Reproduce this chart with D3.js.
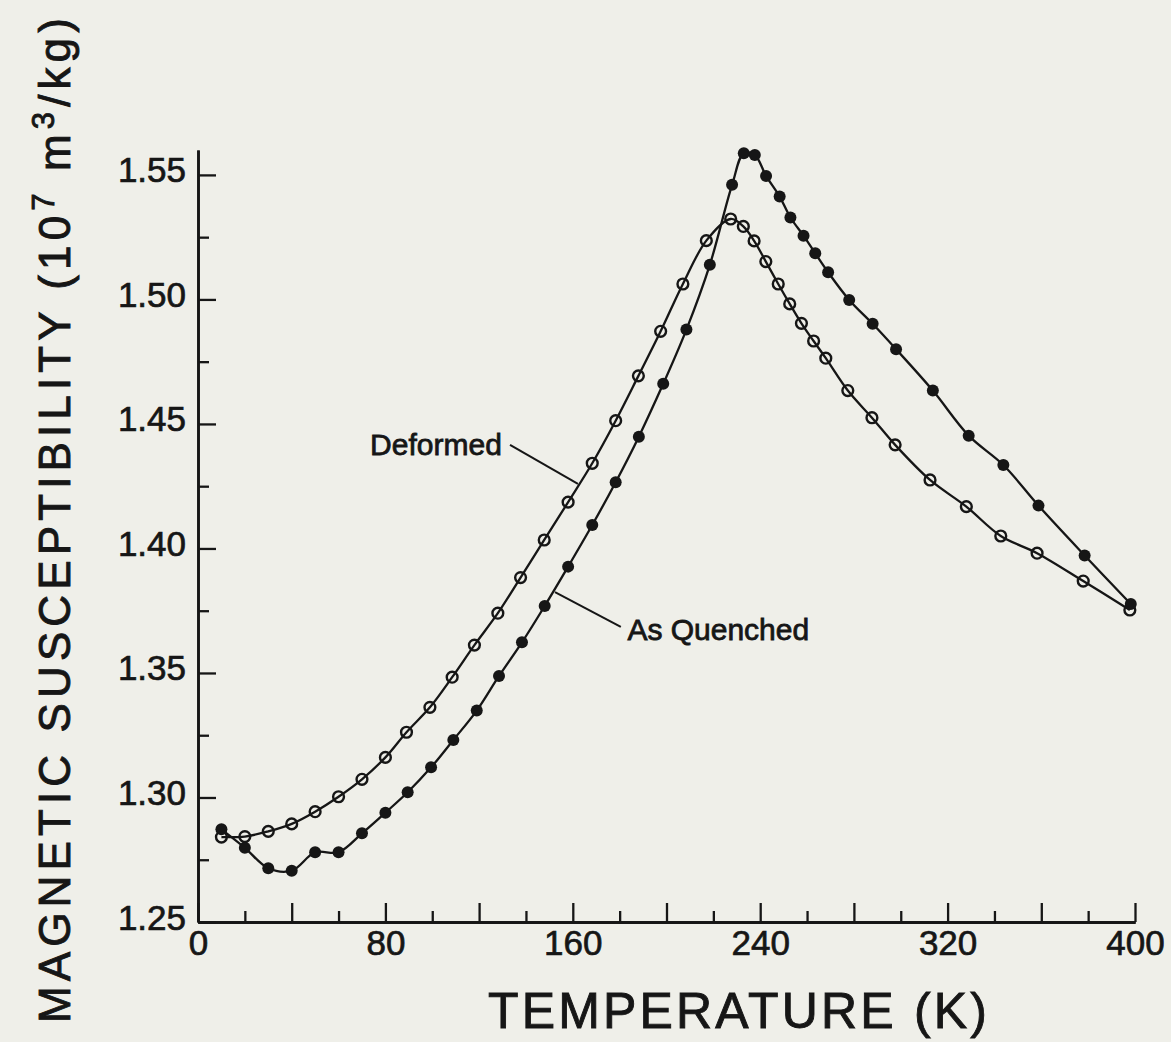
<!DOCTYPE html>
<html>
<head>
<meta charset="utf-8">
<script src="https://cdn.jsdelivr.net/npm/d3@7"></script>
<style>
  body { margin: 0; background: #efefe9; }
  svg { display: block; }
  text { font-family: "Liberation Sans", Arial, Helvetica, sans-serif; fill: #161616; }
</style>
</head>
<body>
<svg id="chart" width="1171" height="1042"></svg>
<script>
// values
let deformedT = [10, 20, 30, 40, 50, 60, 70, 80, 89, 99, 108.5, 118, 128, 137.7, 147.8, 158, 168.3, 178.3, 188,
    197.5, 207, 217, 227.4, 232.8, 237.4, 242.4, 247.7, 252.6, 257.6, 262.8, 268, 277.4, 287.7, 297.6,
    312.5, 328, 342.7, 358.2, 377.9, 397.8];
let deformedChi = [1.2841, 1.2843, 1.2864, 1.2894, 1.2943, 1.3003, 1.3073, 1.3161, 1.3262, 1.3362, 1.3483, 1.3612,
    1.3740, 1.3883, 1.4034, 1.4186, 1.4342, 1.4513, 1.4693, 1.4872, 1.5062, 1.5236, 1.5323, 1.5293, 1.5235,
    1.5152, 1.5062, 1.4982, 1.4904, 1.4833, 1.4764, 1.4634, 1.4525, 1.4416, 1.4275, 1.4168, 1.4050, 1.3981,
    1.3869, 1.3753];

let quenchedT = [10, 20, 30, 40, 50, 60, 70, 80, 89.5, 99.5, 109, 119, 128.5, 138.3, 148, 158, 168.3, 178.3, 188.2,
    198.6, 208.5, 218.5, 228, 233, 237.7, 242.5, 248.3, 252.9, 258.5, 263.5, 269, 278, 288, 298,
    313.7, 329, 343.8, 358.8, 378.5, 398.2];
let quenchedChi = [1.2872, 1.2798, 1.2716, 1.2706, 1.2780, 1.2780, 1.2856, 1.2939, 1.3021, 1.3121, 1.3231, 1.3349,
    1.3488, 1.3623, 1.3769, 1.3927, 1.4094, 1.4266, 1.4449, 1.4661, 1.4879, 1.5139, 1.5460, 1.5587, 1.5580,
    1.5496, 1.5413, 1.5329, 1.5256, 1.5185, 1.5109, 1.4998, 1.4902, 1.4800, 1.4634, 1.4453, 1.4335, 1.4172,
    1.3972, 1.3777];

let xLabelTicks = [0, 80, 160, 240, 320, 400];
let xLongTicks = [40, 120, 200, 280, 360];
let xShortTicks = [20, 60, 100, 140, 180, 220, 260, 300, 340, 380];
let yLabelTicks = [1.25, 1.30, 1.35, 1.40, 1.45, 1.50, 1.55];
let yMinorTicks = [1.275, 1.325, 1.375, 1.425, 1.475, 1.525];

let xTitle = "TEMPERATURE (K)";
let seriesNames = ["Deformed", "As Quenched"];

let ink = "#161616";
let svg = d3.select("#chart");

let x = d3.scaleLinear().domain([0, 400]).range([198, 1135]);
let y = d3.scaleLinear().domain([1.25, 1.56]).range([922, 150]);

let line = d3.line()
    .x(d => x(d[0]))
    .y(d => y(d[1]))
    .curve(d3.curveCatmullRom.alpha(0.5));

let deformed = deformedT.map((t, i) => [t, deformedChi[i]]);
let quenched = quenchedT.map((t, i) => [t, quenchedChi[i]]);

// axes, ticks point inwards
function styleAxis(g) {
    g.selectAll("path").attr("stroke", ink).attr("stroke-width", 2.6);
    g.selectAll("line").attr("stroke", ink).attr("stroke-width", 2.3);
}
function styleLabels(g) {
    g.selectAll("text")
        .style("font-family", '"Liberation Sans", Arial, sans-serif')
        .style("font-size", "35px")
        .attr("fill", ink)
        .style("stroke", ink)
        .style("stroke-width", 0.7);
}

svg.append("g")
    .attr("transform", "translate(0," + y(1.25) + ")")
    .call(d3.axisBottom(x).tickValues(xShortTicks).tickSize(-11).tickFormat("").tickSizeOuter(0))
    .call(styleAxis);
svg.append("g")
    .attr("transform", "translate(0," + y(1.25) + ")")
    .call(d3.axisBottom(x).tickValues(xLongTicks).tickSize(-19).tickFormat("").tickSizeOuter(0))
    .call(styleAxis);
svg.append("g")
    .attr("transform", "translate(0," + y(1.25) + ")")
    .call(d3.axisBottom(x).tickValues(xLabelTicks).tickSize(-19).tickPadding(8).tickSizeOuter(0))
    .call(styleAxis)
    .call(styleLabels);

svg.append("g")
    .attr("transform", "translate(" + x(0) + ",0)")
    .call(d3.axisLeft(y).tickValues(yMinorTicks).tickSize(-11).tickFormat("").tickSizeOuter(0))
    .call(styleAxis);
svg.append("g")
    .attr("transform", "translate(" + x(0) + ",0)")
    .call(d3.axisLeft(y).tickValues(yLabelTicks).tickSize(-18).tickPadding(12)
        .tickFormat(d3.format(".2f")).tickSizeOuter(0))
    .call(styleAxis)
    .call(styleLabels)
    .selectAll("text").attr("dy", "0.2em");

// curves
[deformed, quenched].forEach(function (data) {
    svg.append("path")
        .datum(data)
        .attr("fill", "none")
        .attr("stroke", ink)
        .attr("stroke-width", 2.3)
        .attr("d", line);
});

svg.append("g").selectAll("circle")
    .data(deformed)
    .join("circle")
    .attr("cx", d => x(d[0]))
    .attr("cy", d => y(d[1]))
    .attr("r", 5.4)
    .attr("fill", "none")
    .attr("stroke", ink)
    .attr("stroke-width", 2.4);

svg.append("g").selectAll("circle")
    .data(quenched)
    .join("circle")
    .attr("cx", d => x(d[0]))
    .attr("cy", d => y(d[1]))
    .attr("r", 6)
    .attr("fill", ink);

// leader labels, placed in data units
let notes = [
    {text: seriesNames[0], at: [129.7, 1.4376], anchor: "end", from: [133.2, 1.4416], to: [162.2, 1.4259]},
    {text: seriesNames[1], at: [183.3, 1.3633], anchor: "start", from: [180.5, 1.3685], to: [152.4, 1.3825]}
];
notes.forEach(function (n) {
    svg.append("line")
        .attr("x1", x(n.from[0])).attr("y1", y(n.from[1]))
        .attr("x2", x(n.to[0])).attr("y2", y(n.to[1]))
        .attr("stroke", ink)
        .attr("stroke-width", 2);
    svg.append("text")
        .attr("x", x(n.at[0]))
        .attr("y", y(n.at[1]))
        .attr("text-anchor", n.anchor)
        .style("font-size", "30px")
        .style("stroke", ink)
        .style("stroke-width", 0.8)
        .text(n.text);
});

// axis titles
let xt = svg.append("text")
    .attr("x", 739)
    .attr("y", 1028)
    .attr("text-anchor", "middle")
    .style("font-size", "50px")
    .style("stroke", ink)
    .style("stroke-width", 0.9)
    .text(xTitle);
let xLen = xt.node().getComputedTextLength();
xt.style("letter-spacing", ((502 - xLen) / xTitle.length) + "px");

let yt = svg.append("text")
    .attr("transform", "translate(70,518) rotate(-90)")
    .attr("text-anchor", "middle")
    .style("font-size", "44px")
    .style("stroke", ink)
    .style("stroke-width", 0.9);
yt.append("tspan").text("MAGNETIC SUSCEPTIBILITY (10");
yt.append("tspan").attr("dy", -16).style("font-size", "31px").text("7");
yt.append("tspan").attr("dy", 16).text(" m");
yt.append("tspan").attr("dy", -16).style("font-size", "31px").text("3");
yt.append("tspan").attr("dy", 16).text("/kg)");
let yLen = yt.node().getComputedTextLength();
let nChars = yt.text().length;
yt.style("letter-spacing", ((1010 - yLen) / nChars) + "px");
</script>
</body>
</html>
